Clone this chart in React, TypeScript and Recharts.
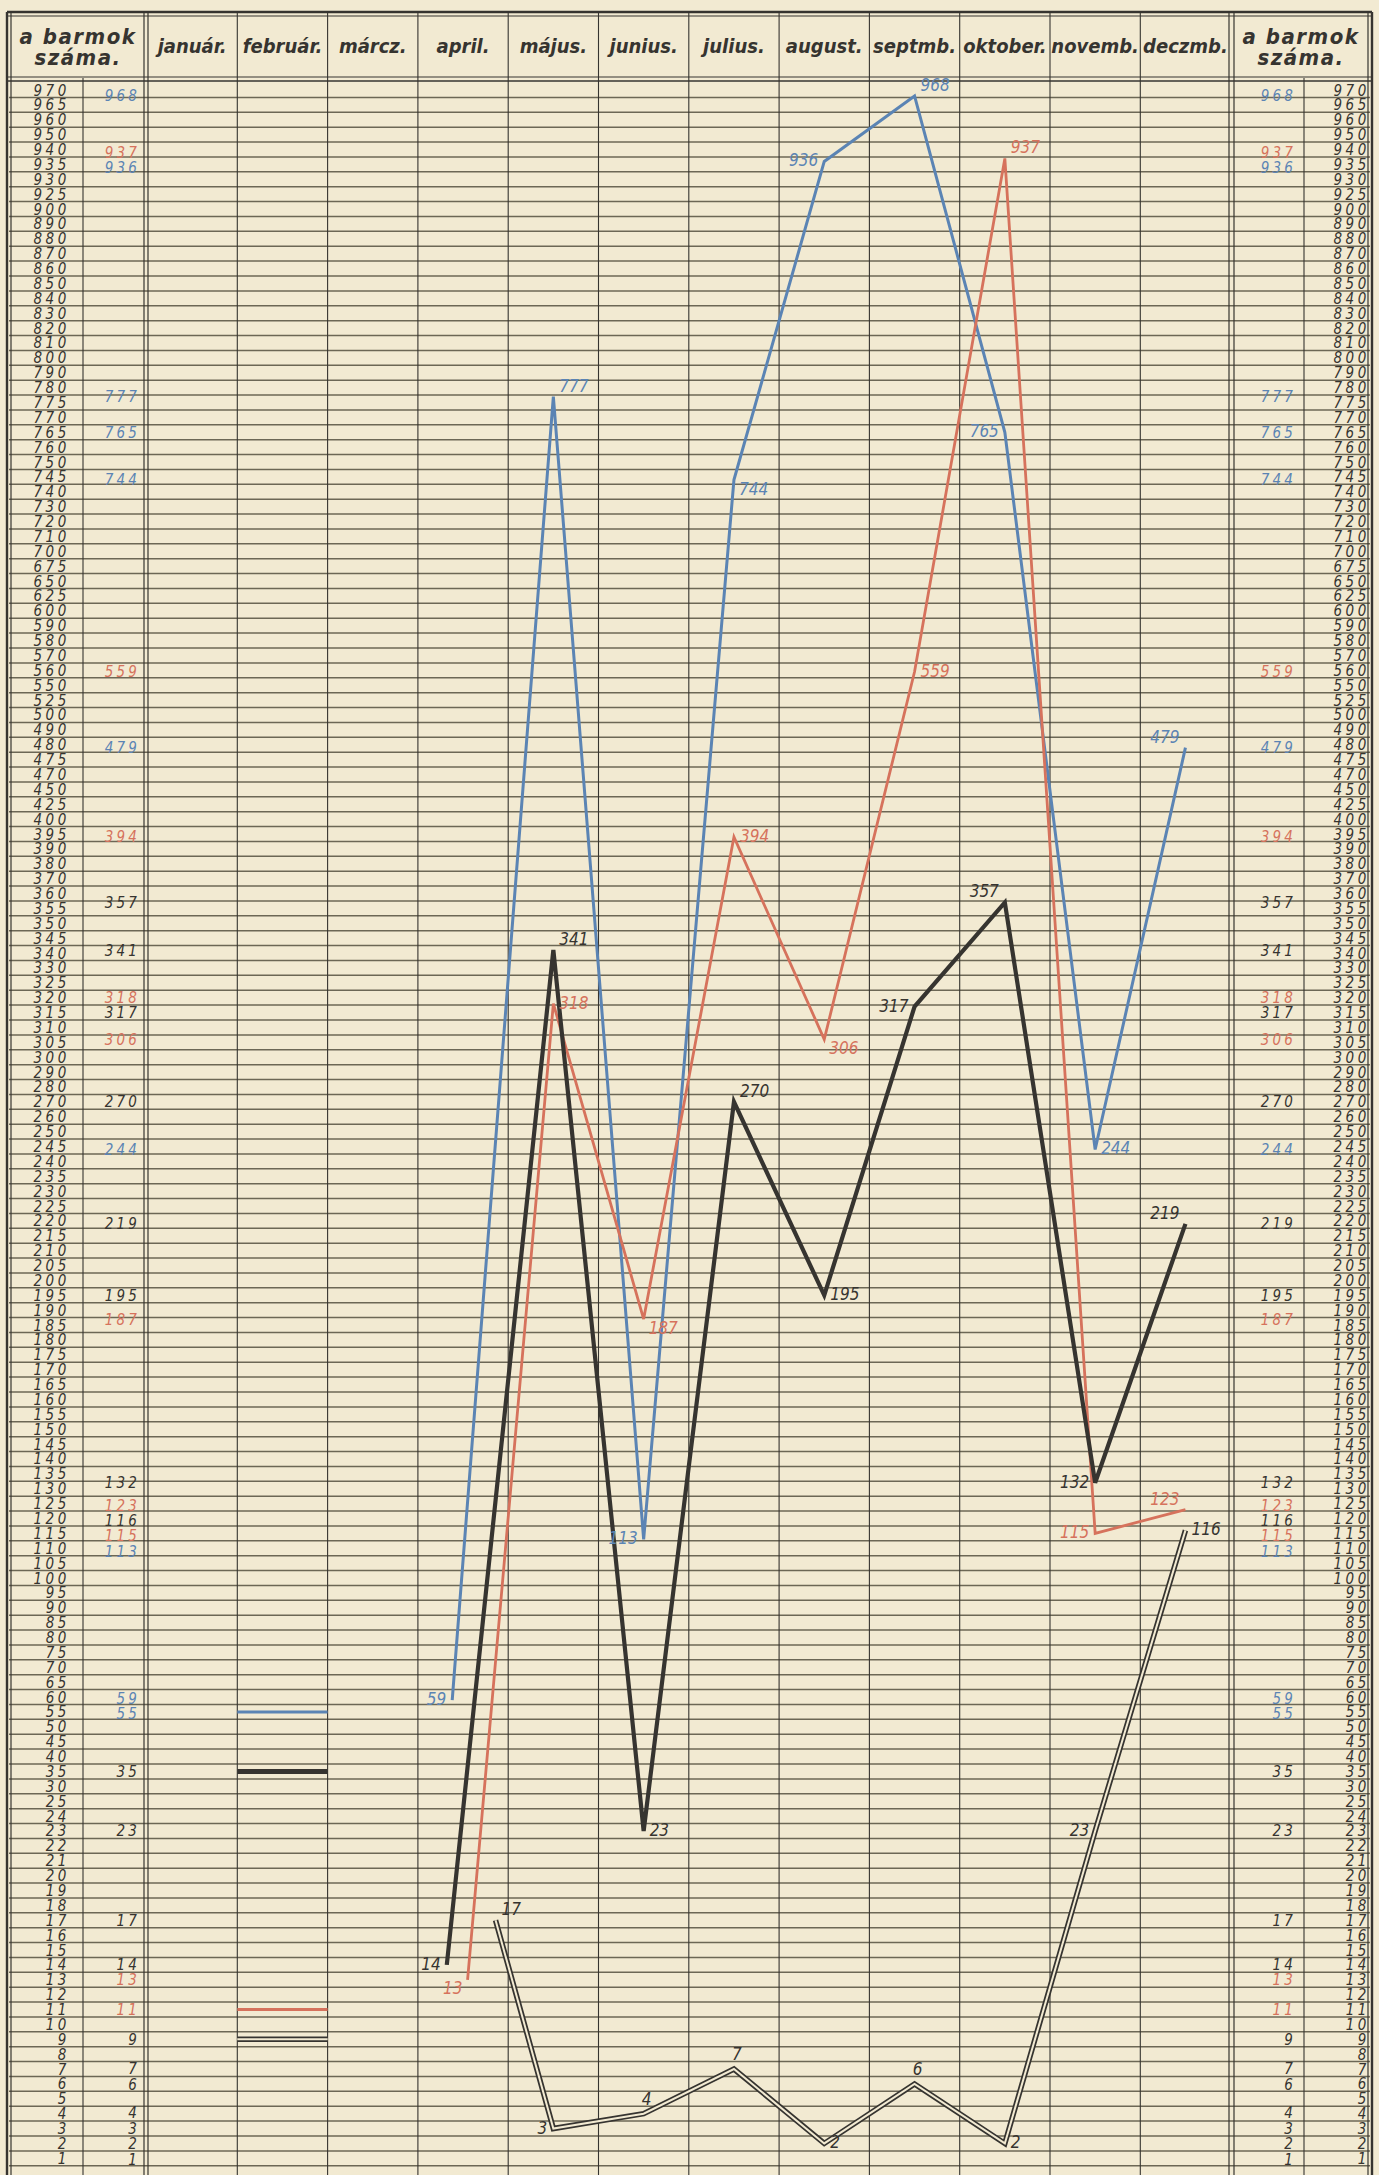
import React from "react";
import { LineChart, Line, XAxis, YAxis, ReferenceLine, LabelList } from "recharts";

const monthNames = [
  "január.", "február.", "márcz.", "april.", "május.", "junius.",
  "julius.", "august.", "septmb.", "oktober.", "novemb.", "deczmb.",
];
const headerTitle = ["a barmok", "száma."];

// one value per ruled row, top to bottom (the scale is not linear)
const rowLabels = [
  970, 965, 960, 950, 940, 935, 930, 925, 900, 890, 880, 870, 860, 850, 840, 830, 820, 810, 800,
  790, 780, 775, 770, 765, 760, 750, 745, 740, 730, 720, 710, 700, 675, 650, 625, 600,
  590, 580, 570, 560, 550, 525, 500, 490, 480, 475, 470, 450, 425, 400,
  395, 390, 380, 370, 360, 355, 350, 345, 340, 330, 325, 320, 315, 310, 305, 300,
  290, 280, 270, 260, 250, 245, 240, 235, 230, 225, 220, 215, 210, 205, 200,
  195, 190, 185, 180, 175, 170, 165, 160, 155, 150, 145, 140, 135, 130, 125, 120, 115, 110, 105, 100,
  95, 90, 85, 80, 75, 70, 65, 60, 55, 50, 45, 40, 35, 30, 25,
  24, 23, 22, 21, 20, 19, 18, 17, 16, 15, 14, 13, 12, 11, 10, 9, 8, 7, 6, 5, 4, 3, 2, 1,
];

// april .. deczmb
const seriesMonths = [3, 4, 5, 6, 7, 8, 9, 10, 11];
const blueValues = [59, 777, 113, 744, 936, 968, 765, 244, 479];
const redValues = [13, 318, 187, 394, 306, 559, 937, 115, 123];
const blackValues = [14, 341, 23, 270, 195, 317, 357, 132, 219];
const doubleValues = [17, 3, 4, 7, 2, 6, 2, 23, 116];

// where each line starts inside the april column
const aprilStart = { blue: 0.38, red: 0.55, black: 0.32, double: 0.86 };

// short key strokes drawn in the február column
const keyValues = { blue: 55, black: 35, red: 11, double: 9 };

// numbers written in the narrow side columns
const sideMarks: [number, string][] = [
  [968, "blue"], [937, "red"], [936, "blue"], [777, "blue"], [765, "blue"], [744, "blue"],
  [559, "red"], [479, "blue"], [394, "red"], [357, "black"], [341, "black"], [318, "red"],
  [317, "black"], [306, "red"], [270, "black"], [244, "blue"], [219, "black"], [195, "black"],
  [187, "red"], [132, "black"], [123, "red"], [116, "black"], [115, "red"], [113, "blue"],
  [59, "blue"], [55, "blue"], [35, "black"], [23, "black"], [17, "black"], [14, "black"],
  [13, "red"], [11, "red"], [9, "black"], [7, "black"], [6, "black"], [4, "black"],
  [3, "black"], [2, "black"], [1, "black"],
];

// where the hand-written value sits next to each point
const blueSides = ["l", "rt", "l", "rb", "l", "rt", "l", "r", "lt"];
const redSides = ["lb", "r", "rb", "r", "rb", "r", "rt", "l", "lt"];
const blackSides = ["l", "rt", "r", "rt", "r", "l", "lt", "l", "lt"];
const doubleSides = ["rt", "l", "t", "t", "r", "t", "r", "l", "r"];

const INK = "#363430";
const BLUE = "#5b84b4";
const RED = "#d6725c";
const PAPER = "#f2ead2";
const RULE = "#6c6755";
const HAND = "'DejaVu Sans Condensed', 'DejaVu Sans', sans-serif";
const COLORS: Record<string, string> = { blue: BLUE, red: RED, black: INK };

const W = 1379;
const H = 2175;
const ROW = 14.88;
const ROW0 = 90;
const COL = 90.3;
const COL0 = 147;

const yAt = (px: number) => (px - ROW0) / ROW;
const xAt = (px: number) => (px - COL0) / COL;
// each axis takes 1px so that recharts still draws its ticks
const X_DOMAIN = [xAt(2), xAt(W - 2)];
const Y_DOMAIN = [yAt(1), yAt(H)];

function rowPos(v: number) {
  for (let i = 0; i < rowLabels.length - 1; i++) {
    const a = rowLabels[i];
    const b = rowLabels[i + 1];
    if (v <= a && v >= b) return i + (a - v) / (a - b);
  }
  return v > rowLabels[0] ? 0 : rowLabels.length - 1;
}

// push side numbers apart a little where they would sit on top of each other
function spread(pos: number[], gap: number) {
  const p = [...pos];
  for (let it = 0; it < 80; it++) {
    for (let i = 0; i < p.length - 1; i++) {
      const d = p[i + 1] - p[i];
      if (d < gap) {
        const push = (gap - d) / 2 + 0.001;
        p[i] -= push;
        p[i + 1] += push;
      }
    }
  }
  return p;
}

function buildSeries(values: number[], start: number) {
  return values.map((v, i) => ({
    m: i === 0 ? seriesMonths[0] + start : seriesMonths[i] + 0.5,
    r: rowPos(v),
    v,
  }));
}

const keyStroke = (v: number) => [
  { m: 1, r: rowPos(v) },
  { m: 2, r: rowPos(v) },
];

const blueData = buildSeries(blueValues, aprilStart.blue);
const redData = buildSeries(redValues, aprilStart.red);
const blackData = buildSeries(blackValues, aprilStart.black);
const doubleData = buildSeries(doubleValues, aprilStart.double);

const pointLabel = (color: string, sides: string[]) => (props: any) => {
  const { x, y, value, index } = props;
  const s = sides[index] ?? "r";
  let dx = 6;
  let dy = 5;
  let anchor = "start";
  if (s === "l") { dx = -6; anchor = "end"; }
  if (s === "rt") { dx = 6; dy = -5; }
  if (s === "lt") { dx = -6; dy = -5; anchor = "end"; }
  if (s === "rb") { dx = 5; dy = 15; }
  if (s === "lb") { dx = -5; dy = 14; anchor = "end"; }
  if (s === "t") { dx = 3; dy = -9; anchor = "middle"; }
  return (
    <text x={x + dx} y={y + dy} fill={color} fontSize={17} fontStyle="italic"
      fontFamily={HAND} textAnchor={anchor}>
      {value}
    </text>
  );
};

const rowTick = (xPos: number) => (props: any) => {
  const { y, payload } = props;
  return (
    <text x={xPos} y={y + 5.5} fill={INK} fontSize={15} fontStyle="italic" fontFamily={HAND}
      textAnchor="end" letterSpacing={3.6}>
      {rowLabels[Math.round(payload.value)]}
    </text>
  );
};

const markTick = (xPos: number) => (props: any) => {
  const { y, index } = props;
  const [v, c] = sideMarks[index];
  return (
    <text x={xPos} y={y + 5.5} fill={COLORS[c]} fontSize={15} fontStyle="italic" fontFamily={HAND}
      textAnchor="end" letterSpacing={3.2}>
      {v}
    </text>
  );
};

const headTicks = [xAt(78), ...monthNames.map((_, i) => i + 0.5), xAt(1301)];

const headTick = (props: any) => {
  const { x, index } = props;
  if (index === 0 || index === headTicks.length - 1) {
    return (
      <g>
        {headerTitle.map((t, k) => (
          <text key={t} x={x} y={44 + k * 21} fill={INK} fontSize={22} fontWeight="bold"
            fontStyle="italic" fontFamily={HAND} textAnchor="middle" letterSpacing={1.5}>
            {t}
          </text>
        ))}
      </g>
    );
  }
  return (
    <text x={x} y={53} fill={INK} fontSize={20} fontWeight="bold" fontStyle="italic"
      fontFamily={HAND} textAnchor="middle">
      {monthNames[index - 1]}
    </text>
  );
};

// [x px, from y px, stroke width]
const verticals: [number, number, number][] = [
  [7, 12, 2.4], [11, 12, 1.2], [83, 78, 1.1], [144, 12, 1.2], [148, 12, 1.2],
  ...Array.from({ length: 11 }, (_, i): [number, number, number] => [COL0 + (i + 1) * COL, 12, 1.1]),
  [1229, 12, 1.2], [1234, 12, 1.2], [1304, 78, 1.1], [1368, 12, 1.2], [1372, 12, 2.4],
];

const hLine = (px: number, w: number, key: string) => (
  <ReferenceLine key={key} yAxisId="main" ifOverflow="visible"
    segment={[{ x: xAt(7), y: yAt(px) }, { x: xAt(1372), y: yAt(px) }]}
    stroke={INK} strokeWidth={w} />
);

export default function App() {
  const common = {
    yAxisId: "main",
    type: "linear" as const,
    dot: false,
    activeDot: false,
    isAnimationActive: false,
    dataKey: "r",
  };
  const yCommon = {
    type: "number" as const,
    width: 1,
    domain: Y_DOMAIN,
    reversed: true,
    allowDataOverflow: true,
    interval: 0 as const,
    axisLine: false,
    tickLine: false,
  };
  const rowTicks = rowLabels.map((_, i) => i);
  const markTicks = spread(sideMarks.map(([v]) => rowPos(v)), 1.03);
  return (
    <div style={{ width: W, height: H, background: PAPER }}>
      <style>{"html,body{margin:0;padding:0;background:" + PAPER + "}"}</style>
      <LineChart width={W} height={H} margin={{ top: 0, right: 0, bottom: 0, left: 0 }}>
        <XAxis dataKey="m" type="number" orientation="top" height={1} domain={X_DOMAIN}
          allowDataOverflow ticks={headTicks} interval={0} axisLine={false} tickLine={false}
          tick={headTick} />
        <YAxis yAxisId="main" {...yCommon} ticks={rowTicks} tick={rowTick(70)} />
        <YAxis yAxisId="marksL" {...yCommon} ticks={markTicks} tick={markTick(140)} />
        <YAxis yAxisId="rowsR" orientation="right" {...yCommon} ticks={rowTicks}
          tick={rowTick(1370)} />
        <YAxis yAxisId="marksR" orientation="right" {...yCommon} ticks={markTicks}
          tick={markTick(1296)} />

        {rowLabels.map((_, i) => (
          <ReferenceLine key={"rule" + i} yAxisId="main" ifOverflow="visible"
            segment={[{ x: xAt(9), y: i + 0.5 }, { x: xAt(1370), y: i + 0.5 }]}
            stroke={RULE} strokeWidth={1.5} />
        ))}
        {hLine(12, 2.4, "top1")}
        {hLine(16, 1.1, "top2")}
        {hLine(77, 1.2, "head1")}
        {hLine(81, 1.6, "head2")}
        {verticals.map(([px, from, w], i) => (
          <ReferenceLine key={"v" + i} yAxisId="main" ifOverflow="visible"
            segment={[{ x: xAt(px), y: yAt(from) }, { x: xAt(px), y: yAt(H) }]}
            stroke={INK} strokeWidth={w} />
        ))}

        {/* key strokes in február */}
        <Line {...common} data={keyStroke(keyValues.blue)} stroke={BLUE} strokeWidth={3} />
        <Line {...common} data={keyStroke(keyValues.black)} stroke={INK} strokeWidth={5} />
        <Line {...common} data={keyStroke(keyValues.red)} stroke={RED} strokeWidth={3} />
        <Line {...common} data={keyStroke(keyValues.double)} stroke={INK} strokeWidth={5.5} />
        <Line {...common} data={keyStroke(keyValues.double)} stroke={PAPER} strokeWidth={2} />

        <Line {...common} data={blueData} stroke={BLUE} strokeWidth={3}>
          <LabelList dataKey="v" content={pointLabel(BLUE, blueSides)} />
        </Line>
        <Line {...common} data={redData} stroke={RED} strokeWidth={2.8}>
          <LabelList dataKey="v" content={pointLabel(RED, redSides)} />
        </Line>
        <Line {...common} data={blackData} stroke={INK} strokeWidth={4.2}>
          <LabelList dataKey="v" content={pointLabel(INK, blackSides)} />
        </Line>
        <Line {...common} data={doubleData} stroke={INK} strokeWidth={5.5} />
        <Line {...common} data={doubleData} stroke={PAPER} strokeWidth={2}>
          <LabelList dataKey="v" content={pointLabel(INK, doubleSides)} />
        </Line>
      </LineChart>
    </div>
  );
}
